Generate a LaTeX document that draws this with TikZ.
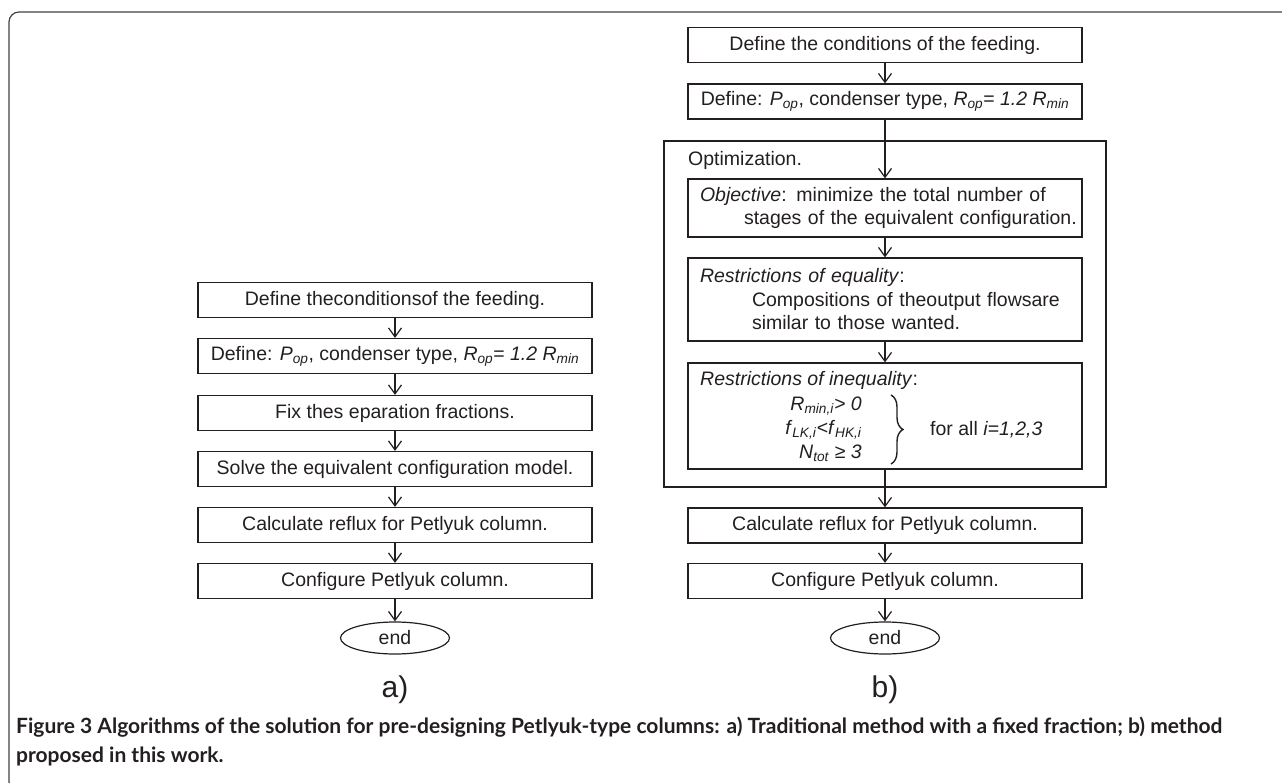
\documentclass[tikz,border=0pt]{standalone}
\usepackage{fontspec}
\setmainfont{Liberation Sans}
\newfontfamily\capfont{Lato}
\usetikzlibrary{arrows.meta,shapes.geometric,decorations.pathreplacing}
\definecolor{ink}{HTML}{231F20}
\begin{document}
\begin{tikzpicture}[x=1pt,y=-1pt,
  every node/.style={font=\fontsize{19.5}{23.5}\selectfont, text=ink},
  stepbox/.style={draw=ink, line width=1.2pt, minimum width=394pt, minimum height=35pt, inner sep=0pt},
  textbox/.style={stepbox, text width=370pt, inner xsep=12pt, align=left},
  endnode/.style={ellipse, draw=ink, line width=1.2pt, minimum width=109pt, minimum height=32pt, inner sep=0pt},
  flow/.style={draw=ink, line width=1.2pt, -{Straight Barb[length=9pt,width=13pt]}},
  panel/.style={font=\fontsize{30}{34}\selectfont},
  capt/.style={font=\capfont\bfseries\fontsize{21}{25}\selectfont, anchor=west, inner sep=0pt}
]
\useasboundingbox (0,0) rectangle (1282,783);
% outer frame
\draw[ink!85, line width=1.2pt, rounded corners=10pt] (1290,12) -- (9,12) -- (9,792) -- (40,792);

% ---- left chart (a)
\node[stepbox] (a1) at (395,300) {Define theconditionsof the feeding.};
\node[stepbox] (a2) at (395,356) {Define: \textit{P}\textsubscript{\textit{op}}, condenser type, \textit{R}\textsubscript{\textit{op}}= \textit{1.2 R}\textsubscript{\textit{min}}};
\node[stepbox] (a3) at (395,413) {Fix thes eparation fractions.};
\node[stepbox] (a4) at (395,469) {Solve the equivalent configuration model.};
\node[stepbox] (a5) at (395,525) {Calculate reflux for Petlyuk column.};
\node[stepbox] (a6) at (395,581) {Configure Petlyuk column.};
\node[endnode] (ae) at (395,638) {end};
\draw[flow] (a1) -- (a2);
\draw[flow] (a2) -- (a3);
\draw[flow] (a3) -- (a4);
\draw[flow] (a4) -- (a5);
\draw[flow] (a5) -- (a6);
\draw[flow] (a6) -- (ae);

% ---- right chart (b)
\node[stepbox] (b1) at (885,45) {Define the conditions of the feeding.};
\node[stepbox] (b2) at (885,101.5) {Define: \textit{P}\textsubscript{\textit{op}}, condenser type, \textit{R}\textsubscript{\textit{op}}= \textit{1.2 R}\textsubscript{\textit{min}}};
\node[draw=ink, line width=1.2pt, minimum width=442pt, minimum height=346pt, inner sep=0pt] (opt) at (885,314) {};
\node[anchor=west, inner sep=0pt] (optlabel) at (688,160) {Optimization.};
\node[textbox, minimum height=58pt] (b3) at (885,208) {\mbox{\textit{Objective}: minimize the total number of}\\\mbox{\hspace*{44pt}stages of the equivalent configuration.}};
\node[textbox, minimum height=83pt] (b4) at (885,299.5) {\mbox{\textit{Restrictions of equality}:}\\\mbox{\hspace*{52pt}Compositions of theoutput flowsare}\\\mbox{\hspace*{52pt}similar to those wanted.}};
\node[stepbox, minimum height=106pt] (b5) at (885,416) {};
\node[anchor=west, inner sep=0pt] (ineqlabel) at (700,380) {\textit{Restrictions of inequality}:};
\node[anchor=east, inner sep=0pt, align=right, font=\fontsize{19.5}{24}\selectfont] (ineqs) at (862,429) {\textit{R}\textsubscript{\textit{min,i}}\textit{> 0}\\\textit{f}\textsubscript{\textit{LK,i}}\textit{<f}\textsubscript{\textit{HK,i}}\\\textit{N}\textsubscript{\textit{tot}}\textit{ ≥ 3}};
\draw[ink, line width=1.4pt, decorate, decoration={brace, amplitude=12pt}] (891,395) -- (891,464);
\node[anchor=west, inner sep=0pt] (forall) at (930,430) {for all \textit{i=1,2,3}};
\node[stepbox] (b6) at (885,525.5) {Calculate reflux for Petlyuk column.};
\node[stepbox] (b7) at (885,581) {Configure Petlyuk column.};
\node[endnode] (be) at (885,638) {end};
\draw[flow] (b1) -- (b2);
\draw[flow] (b2) -- (b3);
\draw[flow] (b3) -- (b4);
\draw[flow] (b4) -- (b5);
\draw[flow] (b5) -- (b6);
\draw[flow] (b6) -- (b7);
\draw[flow] (b7) -- (be);

% ---- panel labels
\node[panel] (la) at (395,690) {a)};
\node[panel] (lb) at (885,690) {b)};

% ---- caption
\node[capt] (cap1) at (16,727) {Figure 3 Algorithms of the solution for pre-designing Petlyuk-type columns: a) Traditional method with a fixed fraction; b) method};
\node[capt] (cap2) at (16,756) {proposed in this work.};
\end{tikzpicture}
\end{document}
